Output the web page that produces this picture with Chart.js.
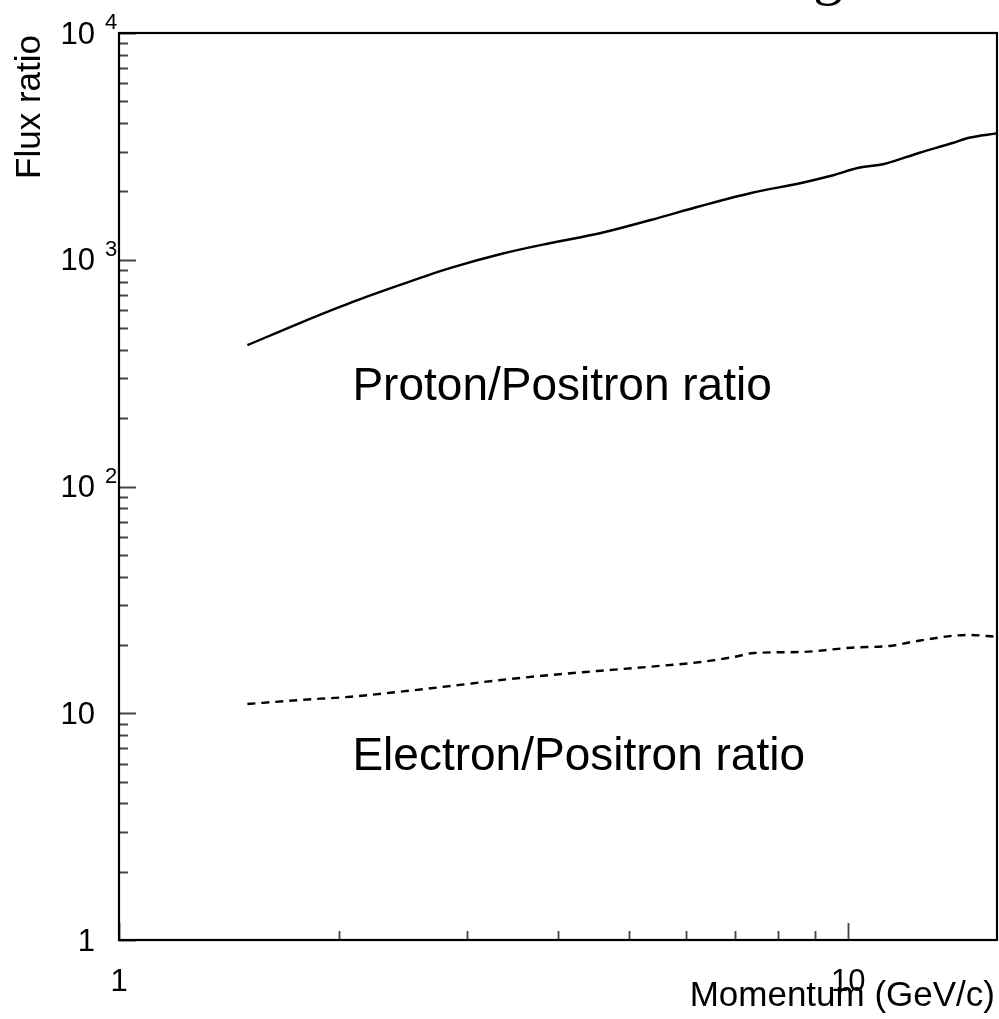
<!DOCTYPE html>
<html>
<head>
<meta charset="utf-8">
<script src="https://cdn.jsdelivr.net/npm/chart.js@4/dist/chart.umd.min.js"></script>
<style>
  body { margin: 0; background: #fff; }
  #wrap { width: 999px; height: 1019px; }
</style>
</head>
<body>
<div id="wrap"><canvas id="flux-chart" width="999" height="1019"></canvas></div>
<script>
const protonMomentum = [1.5, 1.77, 2.08, 2.43, 2.85, 3.34, 3.91, 4.58, 5.36, 6.28, 7.36, 8.62, 9.57, 10.3, 11.2, 12.5, 13.9, 14.6, 16];
const protonRatio = [420, 526, 647, 774, 920, 1060, 1185, 1312, 1497, 1726, 1970, 2181, 2365, 2539, 2644, 2957, 3273, 3443, 3610];

const electronMomentum = [1.5, 1.77, 2.08, 2.43, 2.85, 3.34, 3.91, 4.58, 5.36, 6.28, 6.97, 7.43, 8.62, 10.1, 11.46, 12.5, 14.6, 16];
const electronRatio = [10.98, 11.44, 11.83, 12.45, 13.19, 14.02, 14.75, 15.4, 16.05, 16.83, 17.71, 18.44, 18.63, 19.46, 19.86, 20.89, 22.14, 21.76];

const xMajorTicks = [1, 10];
const xMinorTicks = [2, 3, 4, 5, 6, 7, 8, 9];
const yDecades = [1, 10, 100, 1000, 10000];
const yTickLabels = [['1', ''], ['10', ''], ['10', '2'], ['10', '3'], ['10', '4']];

const seriesLabels = ['Proton/Positron ratio', 'Electron/Positron ratio'];
const xTitle = 'Momentum (GeV/c)';
const yTitle = 'Flux ratio';

const SANS = "'Liberation Sans', Arial, Helvetica, sans-serif";

function toPoints(xs, ys) {
  return xs.map((x, i) => ({ x: x, y: ys[i] }));
}

// frame, inward ticks, exponent labels and text annotations
const frameAxes = {
  id: 'frameAxes',
  afterDatasetsDraw(chart) {
    const ctx = chart.ctx;
    const area = chart.chartArea;
    const xs = chart.scales.x;
    const ys = chart.scales.y;

    ctx.save();

    // ticks
    ctx.strokeStyle = '#444';
    ctx.lineWidth = 1.8;
    ctx.beginPath();
    xMajorTicks.forEach(v => {
      const px = Math.round(xs.getPixelForValue(v)) + 0.5;
      ctx.moveTo(px, area.bottom);
      ctx.lineTo(px, area.bottom - 17);
    });
    xMinorTicks.forEach(v => {
      const px = Math.round(xs.getPixelForValue(v)) + 0.5;
      ctx.moveTo(px, area.bottom);
      ctx.lineTo(px, area.bottom - 9);
    });
    yDecades.forEach((d, i) => {
      const py = Math.round(ys.getPixelForValue(d)) + 0.5;
      ctx.moveTo(area.left, py);
      ctx.lineTo(area.left + 17, py);
      if (i < yDecades.length - 1) {
        for (let m = 2; m <= 9; m++) {
          const pm = Math.round(ys.getPixelForValue(d * m)) + 0.5;
          ctx.moveTo(area.left, pm);
          ctx.lineTo(area.left + 9, pm);
        }
      }
    });
    ctx.stroke();

    // frame
    ctx.strokeStyle = '#000';
    ctx.lineWidth = 2.2;
    ctx.strokeRect(area.left, area.top, area.right - area.left, area.bottom - area.top);

    ctx.fillStyle = '#000';

    // y tick labels
    yDecades.forEach((d, i) => {
      const py = ys.getPixelForValue(d);
      const [base, exp] = yTickLabels[i];
      ctx.font = '31px ' + SANS;
      ctx.textAlign = 'right';
      ctx.textBaseline = 'middle';
      ctx.fillText(base, area.left - 24, py + 2);
      if (exp) {
        ctx.font = '22px ' + SANS;
        ctx.textAlign = 'left';
        ctx.textBaseline = 'alphabetic';
        ctx.fillText(exp, area.left - 14, py - 4);
      }
    });

    // x tick labels
    ctx.font = '31px ' + SANS;
    ctx.textAlign = 'center';
    ctx.textBaseline = 'middle';
    xMajorTicks.forEach(v => {
      ctx.fillText(String(v), xs.getPixelForValue(v), area.bottom + 42);
    });

    // axis titles
    ctx.font = '35px ' + SANS;
    ctx.textAlign = 'right';
    ctx.textBaseline = 'alphabetic';
    ctx.fillText(xTitle, area.right - 2, area.bottom + 66);

    ctx.save();
    ctx.translate(40, area.top + 2);
    ctx.rotate(-Math.PI / 2);
    ctx.fillText(yTitle, 0, 0);
    ctx.restore();

    // curve annotations
    ctx.font = '46px ' + SANS;
    ctx.textAlign = 'left';
    ctx.textBaseline = 'alphabetic';
    ctx.fillText(seriesLabels[0], xs.getPixelForValue(2.09), ys.getPixelForValue(240));
    ctx.fillText(seriesLabels[1], xs.getPixelForValue(2.09), ys.getPixelForValue(5.6));

    // tail of the page title, cut by the top edge
    ctx.font = '60px ' + "'Liberation Serif', 'Times New Roman', serif";
    ctx.textAlign = 'center';
    ctx.fillText('g', 828, -7);

    ctx.restore();
  }
};

const ctx = document.getElementById('flux-chart').getContext('2d');
window.chartInstance = new Chart(ctx, {
  type: 'line',
  data: {
    datasets: [{
      label: seriesLabels[0],
      data: toPoints(protonMomentum, protonRatio),
      borderColor: '#000',
      borderWidth: 2.4,
      pointRadius: 0,
      fill: false,
      cubicInterpolationMode: 'monotone'
    }, {
      label: seriesLabels[1],
      data: toPoints(electronMomentum, electronRatio),
      borderColor: '#000',
      borderWidth: 2.4,
      borderDash: [8, 6],
      pointRadius: 0,
      fill: false,
      cubicInterpolationMode: 'monotone'
    }]
  },
  options: {
    responsive: false,
    animation: false,
    layout: {
      padding: { left: 119, right: 2, top: 33, bottom: 79 }
    },
    plugins: {
      legend: { display: false },
      tooltip: { enabled: false }
    },
    scales: {
      x: { type: 'logarithmic', min: 1, max: 16, display: false },
      y: { type: 'logarithmic', min: 1, max: 10000, display: false }
    }
  },
  plugins: [frameAxes]
});
</script>
</body>
</html>
